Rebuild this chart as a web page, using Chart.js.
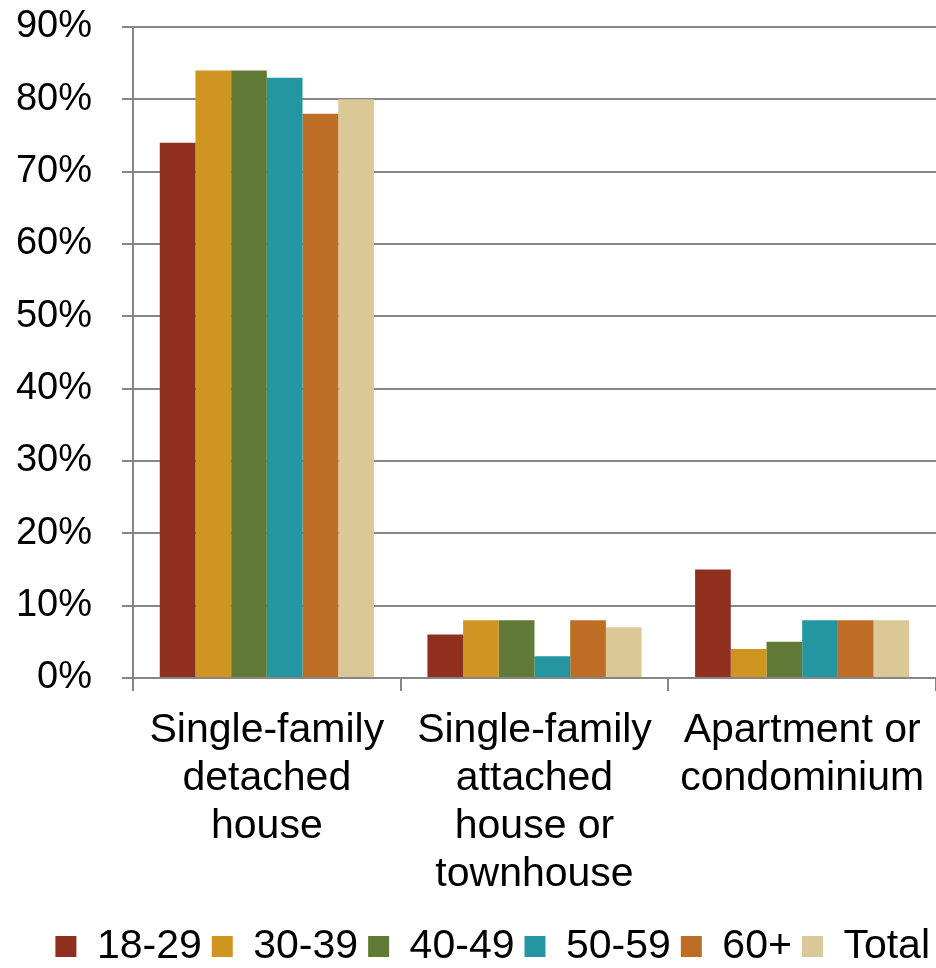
<!DOCTYPE html>
<html>
<head>
<meta charset="utf-8">
<script src="https://cdn.jsdelivr.net/npm/chart.js@4.4.1/dist/chart.umd.min.js"></script>
<style>
  html, body { margin: 0; padding: 0; background: #ffffff; }
  #wrap { width: 936px; height: 968px; position: relative; }
</style>
</head>
<body>
<div id="wrap"><canvas id="c" width="936" height="968"></canvas></div>
<script>
const categories = [
  ['Single-family', 'detached', 'house'],
  ['Single-family', 'attached', 'house or', 'townhouse'],
  ['Apartment or', 'condominium']
];
const seriesNames = ['18-29', '30-39', '40-49', '50-59', '60+', 'Total'];
const age18to29 = [74, 6, 15];
const age30to39 = [84, 8, 4];
const age40to49 = [84, 8, 5];
const age50to59 = [83, 3, 8];
const age60plus = [78, 8, 8];
const total = [80, 7, 8];
const yTicks = [0, 10, 20, 30, 40, 50, 60, 70, 80, 90];

const seriesValues = [age18to29, age30to39, age40to49, age50to59, age60plus, total];
const colors = ['#8F301F', '#D09520', '#627A37', '#2496A1', '#BD6E24', '#DBC897'];

const FONT = '"Liberation Sans", Arial, sans-serif';
const AXIS = '#868686';

new Chart(document.getElementById('c'), {
  type: 'bar',
  data: {
    labels: categories,
    datasets: seriesNames.map((n, i) => ({
      label: n,
      data: seriesValues[i],
      backgroundColor: colors[i],
      borderWidth: 0,
      categoryPercentage: 0.8,
      barPercentage: 1.0
    }))
  },
  options: {
    responsive: false,
    animation: false,
    devicePixelRatio: 1,
    layout: { padding: { left: 8, right: -4, top: 0, bottom: -9 } },
    plugins: {
      tooltip: { enabled: false },
      legend: {
        position: 'bottom',
        align: 'end',
        labels: {
          boxWidth: 21,
          boxHeight: 21,
          padding: 10,
          color: '#000000',
          font: { family: FONT, size: 41 }
        }
      }
    },
    scales: {
      x: {
        offset: true,
        afterFit: (s) => { s.height = 238; s.paddingLeft = 0; s.paddingRight = 0; },
        grid: {
          display: true,
          offset: true,
          drawOnChartArea: false,
          drawTicks: true,
          tickLength: 13,
          color: AXIS,
          lineWidth: 2
        },
        border: { display: true, color: AXIS, width: 2 },
        ticks: {
          color: '#000000',
          padding: 16,
          maxRotation: 0,
          autoSkip: false,
          font: { family: FONT, size: 41, lineHeight: 1.17 }
        }
      },
      y: {
        min: 0,
        max: 90,
        afterFit: (s) => { s.width = 125; s.paddingTop = 27; s.paddingBottom = 0; },
        afterBuildTicks: (s) => { s.ticks = yTicks.map(v => ({ value: v })); },
        grid: {
          color: AXIS,
          lineWidth: 2,
          tickLength: 11,
          drawTicks: true
        },
        border: { display: true, color: AXIS, width: 2 },
        ticks: {
          color: '#000000',
          padding: 30,
          font: { family: FONT, size: 38 },
          callback: (v) => v + '%'
        }
      }
    }
  }
});
</script>
</body>
</html>
